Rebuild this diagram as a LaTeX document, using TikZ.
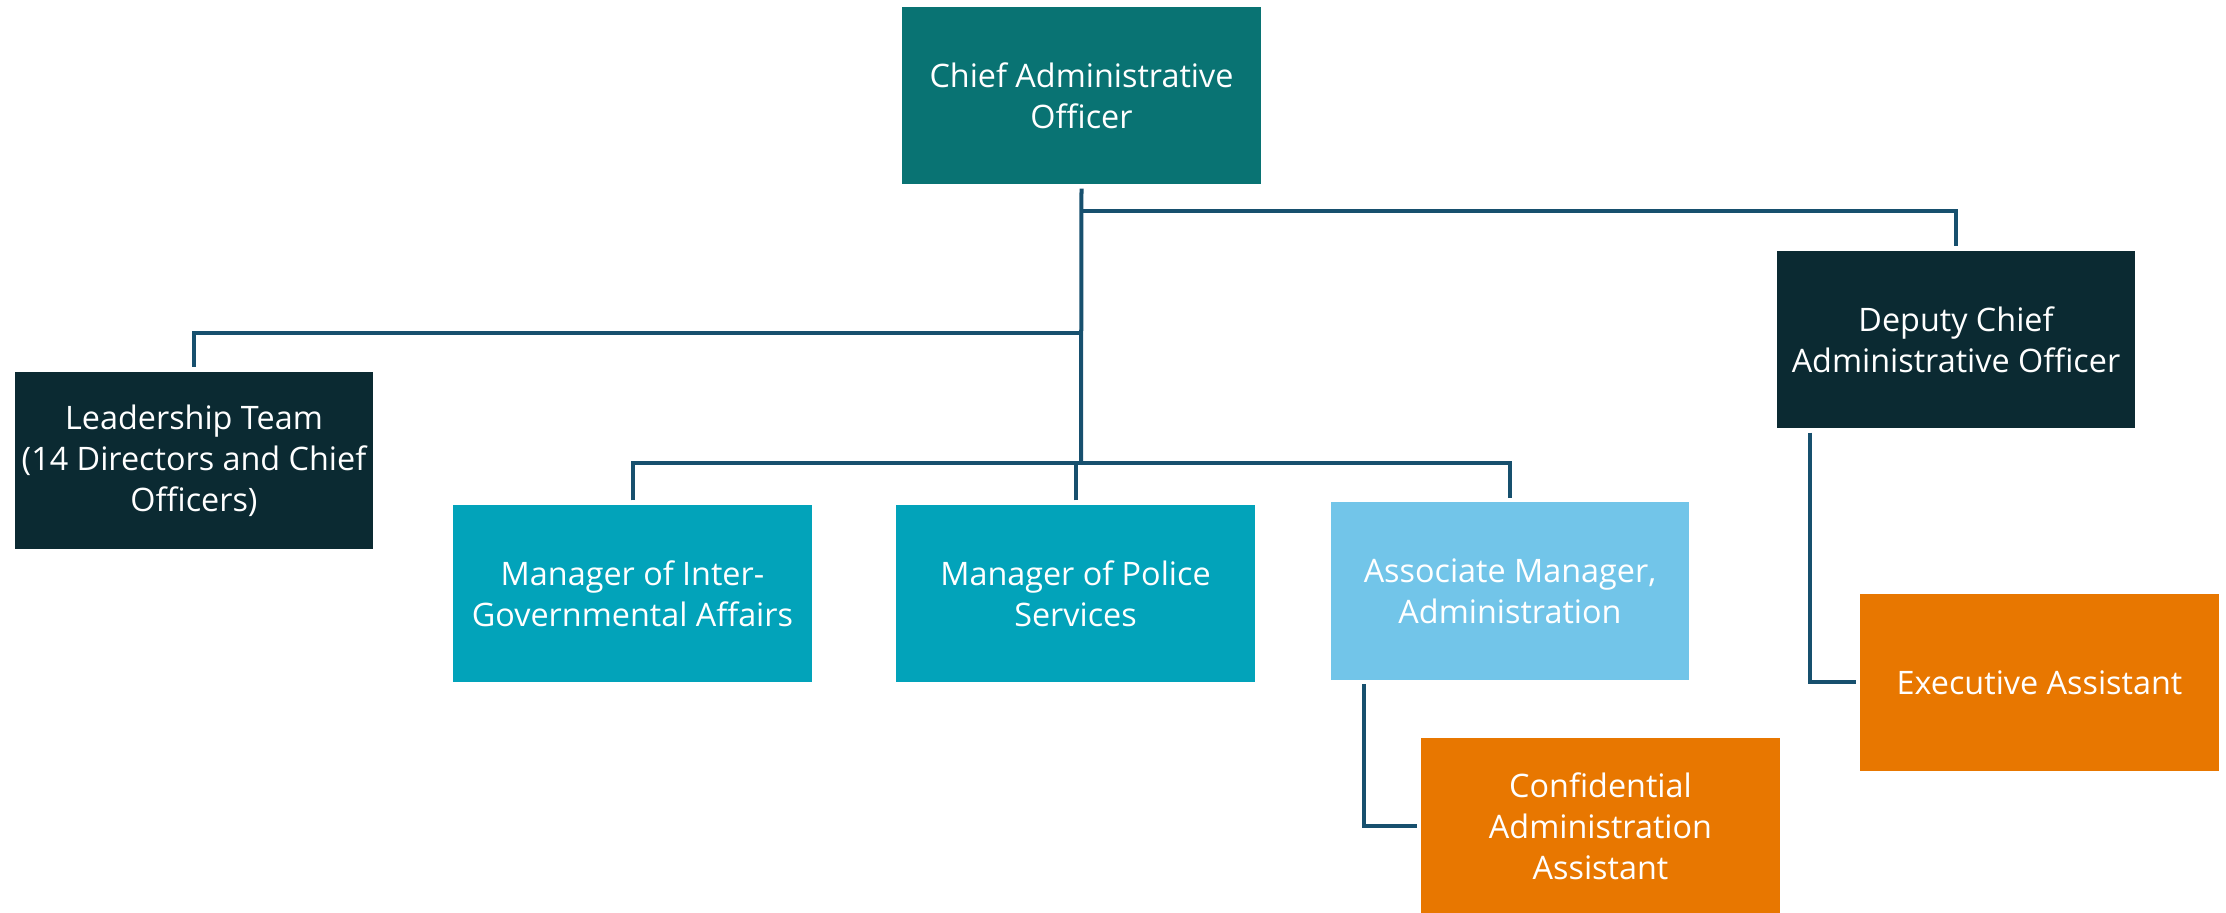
\documentclass[tikz,border=0pt]{standalone}
\usepackage{fontspec}
\setmainfont{Open Sans}
\usepackage{tikz}
\usetikzlibrary{calc}
\usepackage{xcolor}
\definecolor{HeadTeal}{HTML}{097373}
\definecolor{LeaderNavy}{HTML}{0B2A32}
\definecolor{ManagerCyan}{HTML}{02A3BA}
\definecolor{AssocSky}{HTML}{72C5E9}
\definecolor{AssistOrange}{HTML}{E87700}
\definecolor{LinkBlue}{HTML}{17506E}
\tikzset{
    box/.style={rectangle,minimum width=3.58cm,minimum height=1.77cm,inner sep=0pt,
        outer sep=0.045cm,align=center,text=white,font=\fontsize{9.2pt}{11.7pt}\selectfont},
    link/.style={draw=LinkBlue,line width=0.04cm}
}

\begin{document}
\begin{tikzpicture}[x=0.01cm,y=-0.01cm]
    \useasboundingbox (0,0) rectangle (2226,913);
    \node[box,fill=HeadTeal] (cao) at (1081.5,95.5) {Chief Administrative\\Officer};
    \node[box,fill=LeaderNavy] (lead) at (194,460.5) {Leadership Team\\(14 Directors and Chief\\Officers)};
    \node[box,fill=LeaderNavy] (deputy) at (1956,339.5) {Deputy Chief\\Administrative Officer};
    \node[box,fill=ManagerCyan] (inter) at (632.5,593.5) {Manager of Inter-\\Governmental Affairs};
    \node[box,fill=ManagerCyan] (police) at (1075.5,593.5) {Manager of Police\\Services};
    \node[box,fill=AssocSky] (assoc) at (1510,591) {Associate Manager,\\Administration};
    \node[box,fill=AssistOrange] (conf) at (1600.5,826.5) {Confidential\\Administration\\Assistant};
    \node[box,fill=AssistOrange] (exec) at (2039.5,682.5) {Executive Assistant};
    \coordinate (depbus) at (1081,211);
    \coordinate (leadbus) at (1081,333);
    \coordinate (bus) at (1081,463);
    \draw[link] (cao.south) -- (bus);
    \draw[link] (depbus) -| (deputy.north);
    \draw[link] (leadbus) -| (lead.north);
    \draw[link] (inter.north) |- (bus) -| (assoc.north);
    \draw[link] (police.north) -- (police.north |- bus);
    \draw[link] ([xshift=0.38cm]assoc.south west) |- (conf.west);
    \draw[link] ([xshift=0.38cm]deputy.south west) |- (exec.west);
\end{tikzpicture}
\end{document}
